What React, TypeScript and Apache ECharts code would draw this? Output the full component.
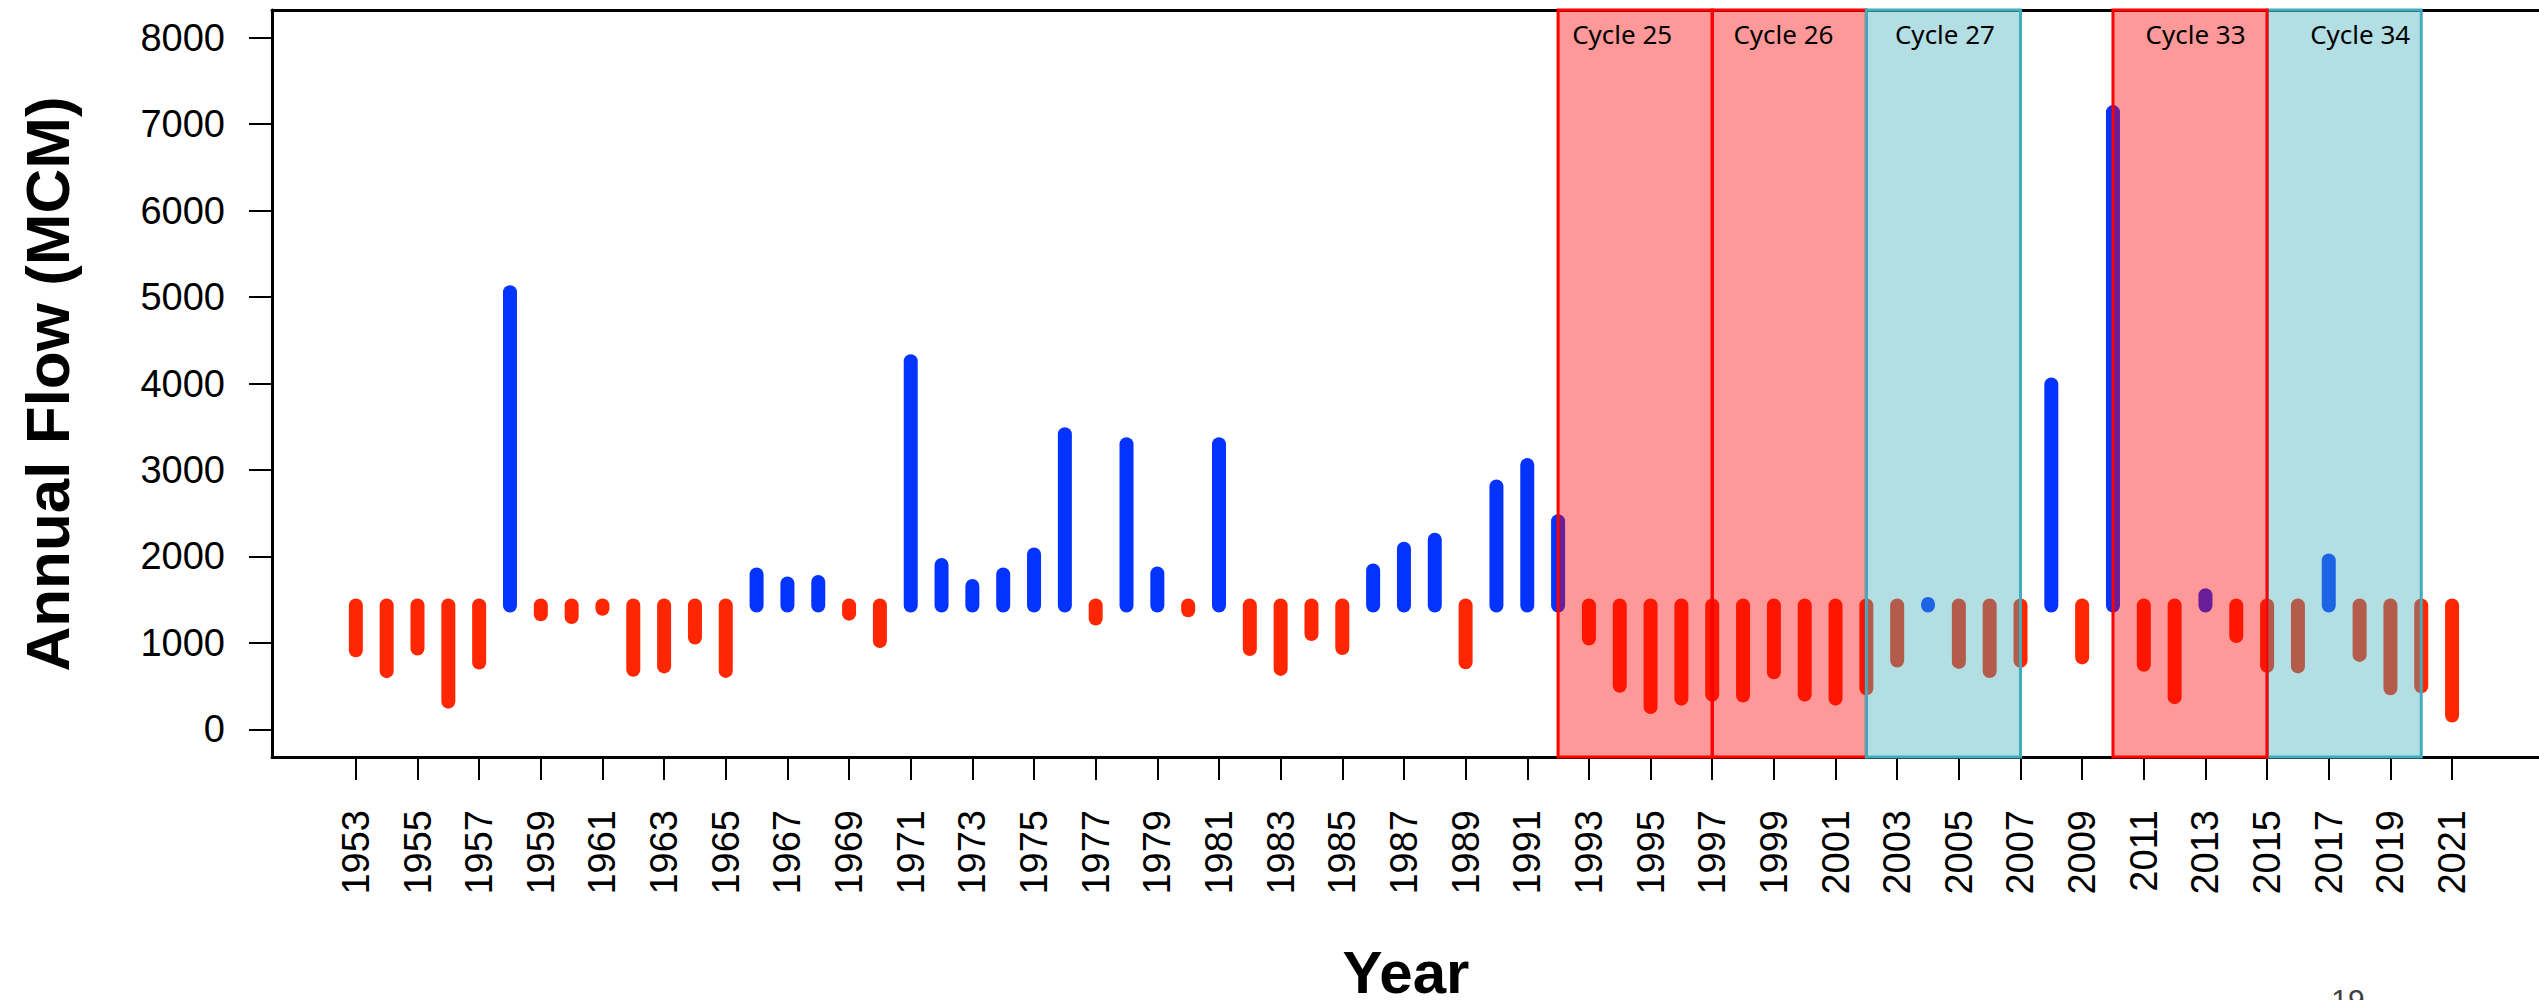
import React, { useEffect, useRef } from "react";
import * as echarts from "echarts";

// ---------- data ----------
const years = [
  1953, 1954, 1955, 1956, 1957, 1958, 1959, 1960, 1961, 1962,
  1963, 1964, 1965, 1966, 1967, 1968, 1969, 1970, 1971, 1972,
  1973, 1974, 1975, 1976, 1977, 1978, 1979, 1980, 1981, 1982,
  1983, 1984, 1985, 1986, 1987, 1988, 1989, 1990, 1991, 1992,
  1993, 1994, 1995, 1996, 1997, 1998, 1999, 2000, 2001, 2002,
  2003, 2004, 2005, 2006, 2007, 2008, 2009, 2010, 2011, 2012,
  2013, 2014, 2015, 2016, 2017, 2018, 2019, 2020, 2021,
];

const annualFlow = [
  915, 673, 935, 320, 772, 5055, 1330, 1300, 1395, 688,
  728, 1062, 676, 1792, 1688, 1705, 1338, 1022, 4258, 1901,
  1659, 1792, 2022, 3413, 1281, 3298, 1803, 1378, 3298, 929,
  699, 1102, 941, 1837, 2090, 2194, 775, 2809, 3057, 2407,
  1051, 504, 257, 355, 401, 390, 659, 401, 355, 475,
  795, 1450, 780, 674, 792, 3988, 832, 7139, 746, 372,
  1550, 1079, 734, 728, 1953, 861, 475, 498, 160,
];

const xTickYears = [
  1953, 1955, 1957, 1959, 1961, 1963, 1965, 1967, 1969, 1971, 1973, 1975,
  1977, 1979, 1981, 1983, 1985, 1987, 1989, 1991, 1993, 1995, 1997, 1999,
  2001, 2003, 2005, 2007, 2009, 2011, 2013, 2015, 2017, 2019, 2021,
];
const yTickValues = [0, 1000, 2000, 3000, 4000, 5000, 6000, 7000, 8000];

// solar cycle windows (drawing order: later entries on top)
const cycleNames = ["Cycle 25", "Cycle 26", "Cycle 27", "Cycle 34", "Cycle 33"];
const cycleStart = [1992, 1997, 2002, 2015, 2010];
const cycleEnd = [1997, 2002, 2007, 2020, 2015];
const cycleKind = ["dry", "dry", "wet", "wet", "dry"];

// layout (label anchor years, not data)
const cycleLabelAt = [1994.08, 1999.31, 2004.55, 2018.02, 2012.68];

const X_MIN = 1950.28;
const X_MAX = 2023.82;
const Y_MIN = -320;
const Y_MAX = 8320;

const BLUE = "#0433ff";
const RED = "#ff2600";
const KIND_STYLE: Record<string, { fill: string; stroke: string }> = {
  dry: { fill: "rgba(255,0,0,0.4)", stroke: "#ff0000" },
  wet: { fill: "rgba(65,175,187,0.4)", stroke: "#41acbc" },
};

export default function App() {
  const ref = useRef<HTMLDivElement>(null);

  useEffect(() => {
    if (!ref.current) return;
    const chart = echarts.init(ref.current, null, { renderer: "svg" });
    const mean = annualFlow.reduce((a, b) => a + b, 0) / annualFlow.length;
    const segData = years.map((y, i) => [y, annualFlow[i]]);
    const cycData = cycleStart.map((s, i) => [s, cycleEnd[i]]);

    const frameLine = { show: true, onZero: false, lineStyle: { color: "#000", width: 3 } };

    const option: any = {
      animation: false,
      backgroundColor: "#ffffff",
      grid: {
        left: 272,
        top: 10,
        width: 2272,
        height: 747,
        show: false,
      },
      xAxis: [
        {
          type: "value",
          position: "bottom",
          min: X_MIN,
          max: X_MAX,
          axisLine: frameLine,
          splitLine: { show: false },
          axisTick: {
            show: true,
            length: 23,
            lineStyle: { color: "#000", width: 2 },
            customValues: xTickYears,
          },
          axisLabel: {
            customValues: xTickYears,
            rotate: 90,
            margin: 53,
            fontSize: 38,
            fontFamily: "Liberation Sans",
            color: "#000",
            formatter: (v: number) => String(v),
          },
        },
        {
          type: "value",
          position: "top",
          min: X_MIN,
          max: X_MAX,
          axisLine: frameLine,
          splitLine: { show: false },
          axisTick: { show: false },
          axisLabel: { show: false },
        },
      ],
      yAxis: {
        type: "value",
        min: Y_MIN,
        max: Y_MAX,
        axisLine: frameLine,
        splitLine: { show: false },
        axisTick: {
          show: true,
          length: 23,
          lineStyle: { color: "#000", width: 2 },
          customValues: yTickValues,
        },
        axisLabel: {
          customValues: yTickValues,
          margin: 47,
          fontSize: 38,
          fontFamily: "Liberation Sans",
          color: "#000",
          formatter: (v: number) => String(v),
        },
      },
      series: [
        {
          type: "custom",
          z: 2,
          clip: false,
          xAxisIndex: 0,
          data: segData,
          renderItem: (params: any, api: any) => {
            const yr = api.value(0);
            const v = api.value(1);
            const a = api.coord([yr, mean]);
            const b = api.coord([yr, v]);
            return {
              type: "line",
              shape: { x1: a[0], y1: a[1], x2: b[0], y2: b[1] },
              style: {
                stroke: v > mean ? BLUE : RED,
                lineWidth: 14,
                lineCap: "round",
              },
            };
          },
        },
        {
          type: "custom",
          z: 5,
          clip: false,
          xAxisIndex: 0,
          data: cycData,
          renderItem: (params: any, api: any) => {
            const i = params.dataIndex;
            const p0 = api.coord([api.value(0), Y_MAX]);
            const p1 = api.coord([api.value(1), Y_MIN]);
            const st = KIND_STYLE[cycleKind[i]];
            const lx = api.coord([cycleLabelAt[i], 0])[0];
            return {
              type: "group",
              children: [
                {
                  type: "rect",
                  shape: { x: p0[0], y: p0[1], width: p1[0] - p0[0], height: p1[1] - p0[1] },
                  style: { fill: st.fill, stroke: st.stroke, lineWidth: 3 },
                },
                {
                  type: "text",
                  x: lx,
                  y: 34,
                  style: {
                    text: cycleNames[i],
                    fill: "#000",
                    fontSize: 26,
                    fontFamily: "Noto Sans",
                    align: "center",
                    verticalAlign: "middle",
                  },
                },
              ],
            };
          },
        },
      ],
      graphic: [
        {
          type: "text",
          x: 47,
          y: 384,
          rotation: Math.PI / 2,
          style: {
            text: "Annual Flow (MCM)",
            fill: "#000",
            fontSize: 62,
            fontWeight: "bold",
            fontFamily: "Liberation Sans",
            align: "center",
            verticalAlign: "middle",
          },
        },
        {
          type: "text",
          x: 1406,
          y: 972,
          style: {
            text: "Year",
            fill: "#000",
            fontSize: 60,
            fontWeight: "bold",
            fontFamily: "Liberation Sans",
            align: "center",
            verticalAlign: "middle",
          },
        },
        {
          type: "text",
          x: 2348,
          y: 999,
          style: {
            text: "19",
            fill: "#404040",
            fontSize: 30,
            fontFamily: "Liberation Sans",
            align: "center",
            verticalAlign: "middle",
          },
        },
      ],
    };

    chart.setOption(option);
    return () => chart.dispose();
  }, []);

  return (
    <div
      ref={ref}
      style={{ position: "absolute", left: 0, top: 0, width: 2539, height: 1000 }}
    />
  );
}
